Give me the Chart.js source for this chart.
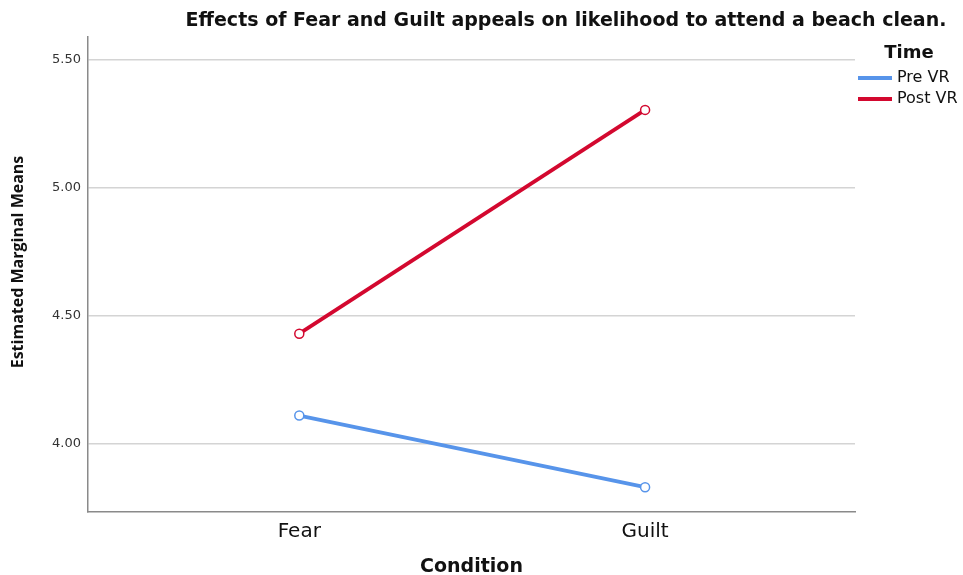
<!DOCTYPE html>
<html>
<head>
<meta charset="utf-8">
<script src="https://cdn.jsdelivr.net/npm/chart.js@4.4.0/dist/chart.umd.min.js"></script>
<style>
  body{margin:0;background:#fff;}
  #wrap{width:963px;height:575px;}
</style>
</head>
<body>
<div id="wrap"><canvas id="chart" width="963" height="575"></canvas></div>
<script>
const categories = ['Fear', 'Guilt'];
const preVR = [4.11, 3.83];
const postVR = [4.43, 5.305];
const yTicks = [4.00, 4.50, 5.00, 5.50];
const seriesNames = ['Pre VR', 'Post VR'];
const chartTitle = 'Effects of Fear and Guilt appeals on likelihood to attend a beach clean.';
const legendTitle = 'Time';
const yTitle = 'Estimated Marginal Means';

const BLUE = '#5794ea';
const RED = '#d3082f';
const FONT = "'DejaVu Sans', Verdana, sans-serif";

const toPoints = (vals) => vals.map((v, i) => ({x: i + 1, y: v}));

// title, y title and legend drawn by hand, positions as in the SPSS output
const extras = {
  id: 'extras',
  afterDraw(chart){
    const ctx = chart.ctx;
    ctx.save();
    ctx.fillStyle = '#111';
    ctx.textBaseline = 'middle';
    ctx.font = 'bold 19px ' + FONT;
    ctx.textAlign = 'center';
    ctx.fillText(chartTitle, 566, 21);

    ctx.font = 'bold 18px ' + FONT;
    ctx.fillText(legendTitle, 909, 53);

    ctx.save();
    ctx.translate(18, 262);
    ctx.rotate(-Math.PI / 2);
    ctx.font = "bold 16px 'Open Sans', sans-serif";
    ctx.fillText(yTitle, 0, 0);
    ctx.restore();

    ctx.textAlign = 'left';
    ctx.font = '16px ' + FONT;
    chart.data.datasets.forEach((ds, i) => {
      const y = 78 + i * 21;
      ctx.strokeStyle = ds.borderColor;
      ctx.lineWidth = 4;
      ctx.beginPath();
      ctx.moveTo(858, y);
      ctx.lineTo(892, y);
      ctx.stroke();
      ctx.fillStyle = '#111';
      ctx.fillText(ds.label, 897, y);
    });
    ctx.restore();
  }
};

new Chart(document.getElementById('chart'), {
  type: 'line',
  data: {
    datasets: [
      { label: seriesNames[0], data: toPoints(preVR), borderColor: BLUE, borderWidth: 3.8,
        pointRadius: 4.5, pointBorderWidth: 1.5, pointBackgroundColor: '#fff', pointBorderColor: BLUE },
      { label: seriesNames[1], data: toPoints(postVR), borderColor: RED, borderWidth: 3.8,
        pointRadius: 4.5, pointBorderWidth: 1.5, pointBackgroundColor: '#fff', pointBorderColor: RED }
    ]
  },
  options: {
    responsive: false,
    animation: false,
    layout: { padding: { top: 37, right: 108, left: 0, bottom: 0 } },
    plugins: { legend: { display: false }, title: { display: false }, tooltip: { enabled: false } },
    scales: {
      x: {
        type: 'linear',
        min: 0.389, max: 2.607,
        afterBuildTicks: (s) => { s.ticks = categories.map((c, i) => ({value: i + 1})); },
        afterFit: (s) => { s.height = 63; },
        grid: { display: false, drawTicks: false },
        border: { display: true, color: '#8a8a8a', width: 1.5 },
        ticks: { padding: 8, color: '#111', font: { family: FONT, size: 20 },
          callback: (v) => categories[v - 1] },
        title: { display: true, text: 'Condition', color: '#111',
          font: { family: FONT, size: 19, weight: 'bold', lineHeight: 0.85 }, padding: { top: 0, bottom: 0 } }
      },
      y: {
        min: 3.733, max: 5.59,
        afterBuildTicks: (s) => { s.ticks = yTicks.map(v => ({value: v})); },
        afterFit: (s) => { s.width = 88; },
        grid: { color: '#d4d4d4', lineWidth: 1.5, drawTicks: false },
        border: { display: true, color: '#8a8a8a', width: 1.5 },
        ticks: { padding: 7, color: '#333', font: { family: FONT, size: 13 },
          callback: (v) => Number(v).toFixed(2) },
        title: { display: false }
      }
    }
  },
  plugins: [extras]
});
</script>
</body>
</html>
